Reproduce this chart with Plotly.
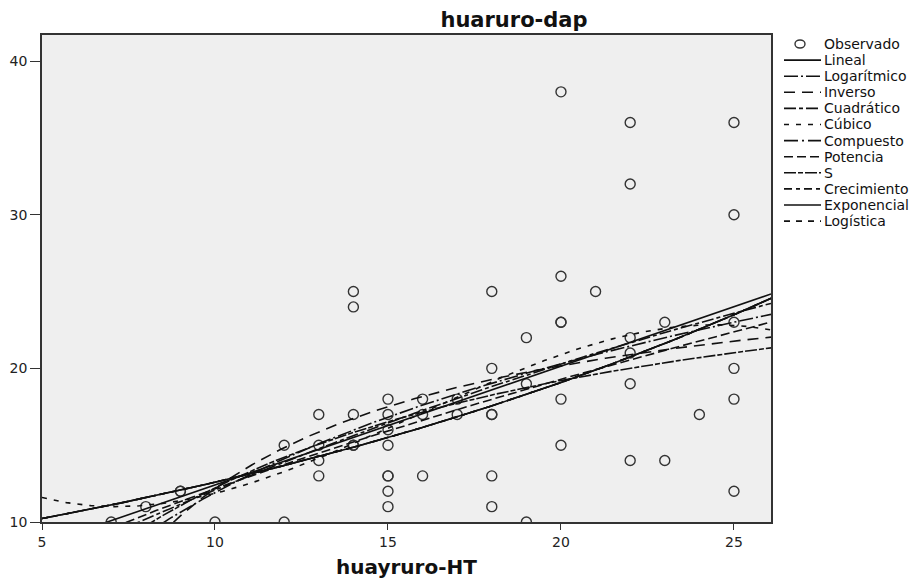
import numpy as np
import plotly.graph_objects as go

# ---------------- data ----------------
ht = [7, 8, 9, 9, 10, 12, 12, 13, 13, 13, 13, 14, 14, 14, 14, 14,
      15, 15, 15, 15, 15, 15, 15, 15, 16, 16, 16, 17, 17,
      18, 18, 18, 18, 18, 18, 19, 19, 19, 20, 20, 20, 20, 20, 20,
      21, 22, 22, 22, 22, 22, 22, 23, 23, 24, 25, 25, 25, 25, 25, 25]
dap = [10, 11, 12, 12, 10, 10, 15, 17, 15, 14, 13, 25, 24, 17, 15, 15,
       18, 17, 16, 15, 13, 13, 12, 11, 18, 17, 13, 18, 17,
       25, 20, 17, 17, 13, 11, 22, 19, 10, 38, 26, 23, 23, 18, 15,
       25, 36, 32, 22, 21, 19, 14, 23, 14, 17, 36, 30, 23, 20, 18, 12]

model_names = ["Lineal", "Logarítmico", "Inverso", "Cuadrático", "Cúbico",
               "Compuesto", "Potencia", "S", "Crecimiento", "Exponencial",
               "Logística"]
model_dash = ["solid", "14px,3px,2px,3px", "11px,7px", "12px,3px,4px,3px",
              "5px,7px", "14px,4px,2px,4px", "9px,4px", "12px,2px,5px,2px",
              "8px,4px,4px,4px", "solid", "6px,6px"]

x_ticks = [5, 10, 15, 20, 25]
y_ticks = [10, 20, 30, 40]
x_range = [5, 26.07]
y_range = [10, 41.7]

# ---------------- curve estimation (as done by SPSS) ----------------
X = np.array(ht, float)
Y = np.array(dap, float)
lnY = np.log(Y)
grid = np.linspace(x_range[0], x_range[1], 300)

def fits():
    out = {}
    b = np.polyfit(X, Y, 1); out["Lineal"] = np.polyval(b, grid)
    b = np.polyfit(np.log(X), Y, 1); out["Logarítmico"] = np.polyval(b, np.log(grid))
    b = np.polyfit(1 / X, Y, 1); out["Inverso"] = np.polyval(b, 1 / grid)
    b = np.polyfit(X, Y, 2); out["Cuadrático"] = np.polyval(b, grid)
    b = np.polyfit(X, Y, 3); out["Cúbico"] = np.polyval(b, grid)
    b = np.polyfit(X, lnY, 1); expo = np.exp(np.polyval(b, grid))
    out["Compuesto"] = expo
    b = np.polyfit(np.log(X), lnY, 1); out["Potencia"] = np.exp(np.polyval(b, np.log(grid)))
    b = np.polyfit(1 / X, lnY, 1); out["S"] = np.exp(np.polyval(b, 1 / grid))
    out["Crecimiento"] = expo
    out["Exponencial"] = expo
    b = np.polyfit(X, np.log(1 / Y), 1); out["Logística"] = 1 / np.exp(np.polyval(b, grid))
    return out

curves = fits()

fig = go.Figure()
fig.add_trace(go.Scatter(
    x=ht, y=dap, mode="markers", name="Observado",
    marker=dict(symbol="circle-open", size=10, color="#333333",
                line=dict(width=1.4, color="#333333")),
    showlegend=False))
for name, dash in zip(model_names, model_dash):
    fig.add_trace(go.Scatter(
        x=grid, y=curves[name], mode="lines", name=name,
        line=dict(color="#111111", width=1.6, dash=dash),
        showlegend=False))

# ---------------- layout ----------------
W, H = 920, 579
L, R, T, B = 42, 149, 35, 57
pw, ph = W - L - R, H - T - B
font = "DejaVu Sans, Arial, sans-serif"

def px_x(p):
    return (p - L) / pw

def px_y(p):
    return (H - B - p) / ph

shapes, annotations = [], []
# manual legend (compact rows as in the reference)
row0, step = 44, 16.1
for i, name in enumerate(["Observado"] + model_names):
    yc = row0 + i * step
    if i == 0:
        shapes.append(dict(type="circle", xref="paper", yref="paper",
                           x0=px_x(795), x1=px_x(805), y0=px_y(yc + 4), y1=px_y(yc - 4),
                           line=dict(color="#333333", width=1.4)))
    else:
        shapes.append(dict(type="line", xref="paper", yref="paper",
                           x0=px_x(784), x1=px_x(821), y0=px_y(yc), y1=px_y(yc),
                           line=dict(color="#111111", width=1.6, dash=model_dash[i - 1])))
    annotations.append(dict(text=name, xref="paper", yref="paper",
                            x=px_x(822), y=px_y(yc), xanchor="left", yanchor="middle",
                            showarrow=False, font=dict(family=font, size=14, color="#111111")))

fig.update_layout(
    width=W, height=H,
    margin=dict(l=L, r=R, t=T, b=B, autoexpand=False),
    paper_bgcolor="white",
    plot_bgcolor="#efefef",
    title=dict(text="<b>huaruro-dap</b>", x=514 / W, y=1 - 20 / H,
               xanchor="center", yanchor="middle",
               font=dict(family=font, size=21, color="#111111")),
    showlegend=False,
    shapes=shapes,
    annotations=annotations,
    xaxis=dict(range=x_range, tickvals=x_ticks, ticks="outside", ticklen=6,
               tickcolor="#333333", showgrid=False, zeroline=False,
               showline=True, linecolor="#333333", linewidth=1.5, mirror=True,
               automargin=False,
               tickfont=dict(family=font, size=14, color="#222222"),
               title=dict(text="<b>huayruro-HT</b>", standoff=16,
                          font=dict(family=font, size=20, color="#111111"))),
    yaxis=dict(range=y_range, tickvals=y_ticks, ticks="outside", ticklen=10,
               tickcolor="#333333", showgrid=False, zeroline=False,
               showline=True, linecolor="#333333", linewidth=1.5, mirror=True,
               automargin=False,
               tickfont=dict(family=font, size=14, color="#222222")),
)

fig.write_html("out.html")
